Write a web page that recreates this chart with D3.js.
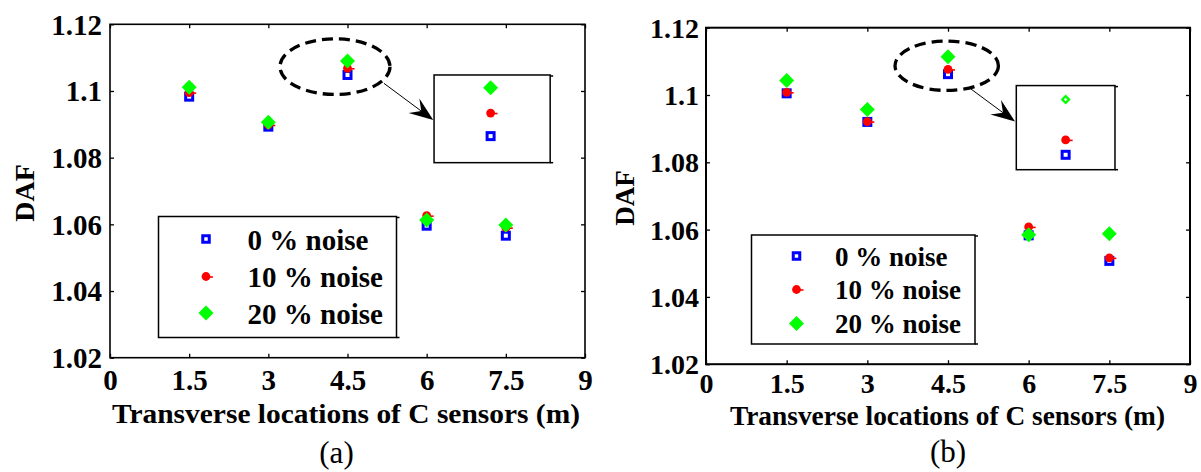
<!DOCTYPE html>
<html><head><meta charset="utf-8">
<script src="https://cdn.jsdelivr.net/npm/d3@7"></script>
<style>body{margin:0;background:#fff} svg{display:block}</style>
</head><body>
<svg id="c" width="1201" height="472"></svg>
<script>
// ---------- data ----------
const xLocations = [1.5, 3, 4.5, 6, 7.5];
const xTicks = [0, 1.5, 3, 4.5, 6, 7.5, 9];
const xTickLabels = ["0", "1.5", "3", "4.5", "6", "7.5", "9"];
const yTicks = [1.02, 1.04, 1.06, 1.08, 1.1, 1.12];
const yTickLabels = ["1.02", "1.04", "1.06", "1.08", "1.1", "1.12"];
const seriesNames = ["0 % noise", "10 % noise", "20 % noise"];
const xLabel = "Transverse locations of C sensors (m)";
const yLabel = "DAF";
const panelLabels = ["(a)", "(b)"];

const a_noise0  = [1.0983, 1.0893, 1.1048, 1.0596, 1.0566];
const a_noise10 = [1.0995, 1.0898, 1.1068, 1.0626, 1.0590];
const a_noise20 = [1.1011, 1.0906, 1.1090, 1.0613, 1.0598];

const b_noise0  = [1.1005, 1.0920, 1.1062, 1.0583, 1.0507];
const b_noise10 = [1.1008, 1.0921, 1.1076, 1.0608, 1.0516];
const b_noise20 = [1.1043, 1.0957, 1.1114, 1.0585, 1.0588];

// zoomed point (x = 4.5) and annotation geometry in data units
const zoomX = 4.5;
const a_insetYDomain = [1.1025, 1.1101];
const b_insetYDomain = [1.1048, 1.1127];

// ---------- drawing ----------
const svg = d3.select("#c");
const FONT = "'Liberation Serif','Times New Roman',serif";

function marker(g, type, x, y, opt) {
  opt = opt || {};
  if (type === 0) {
    const s = opt.sq || 7;
    g.append("rect").attr("x", x - s/2).attr("y", y - s/2).attr("width", s).attr("height", s)
      .attr("fill", "#fff").attr("stroke", "#0000ff").attr("stroke-width", 3);
  } else if (type === 1) {
    g.append("line").attr("x1", x + 2).attr("x2", x + 7).attr("y1", y + 0.5).attr("y2", y + 0.5)
      .attr("stroke", "#ff0000").attr("stroke-width", 1.6);
    g.append("circle").attr("cx", x).attr("cy", y).attr("r", 4.4).attr("fill", "#ff0000");
  } else {
    const d = opt.dm || 7.5;
    g.append("path").attr("d", `M${x},${y-d}L${x+d},${y}L${x},${y+d}L${x-d},${y}Z`).attr("fill", "#00ff00");
    if (opt.hollow) {
      const h = d * 0.35;
      g.append("path").attr("d", `M${x},${y-h}L${x+h},${y}L${x},${y+h}L${x-h},${y}Z`).attr("fill", "#fff");
    }
  }
}

function drawPanel(p) {
  const g = svg.append("g");
  const x = d3.scaleLinear().domain([0, 9]).range([p.left, p.right]);
  const y = d3.scaleLinear().domain([1.02, 1.12]).range([p.bottom, p.top]);
  const W = p.right - p.left, H = p.bottom - p.top;

  // frame
  g.append("rect").attr("x", p.left).attr("y", p.top).attr("width", W).attr("height", H)
    .attr("fill", "none").attr("stroke", "#000").attr("stroke-width", p.frameW);

  const tickLen = 4;
  // bottom axis
  const bx = g.append("g").attr("transform", `translate(0,${p.bottom})`)
    .call(d3.axisBottom(x).tickValues(xTicks).tickSize(-tickLen).tickFormat((d, i) => xTickLabels[i]));
  bx.select(".domain").remove();
  bx.selectAll("line").attr("stroke", "#000").attr("stroke-width", 1.3);
  bx.selectAll("text").attr("y", p.xTickBase).attr("dy", null)
    .attr("font-family", FONT).attr("font-weight", "bold").attr("font-size", p.tickFont).attr("fill", "#000");
  // top axis
  const tx = g.append("g").attr("transform", `translate(0,${p.top})`)
    .call(d3.axisTop(x).tickValues(xTicks).tickSize(-tickLen).tickFormat(""));
  tx.select(".domain").remove();
  tx.selectAll("line").attr("stroke", "#000").attr("stroke-width", 1.3);
  // left axis
  const ly = g.append("g").attr("transform", `translate(${p.left},0)`)
    .call(d3.axisLeft(y).tickValues(yTicks).tickSize(-tickLen).tickFormat((d, i) => yTickLabels[i]));
  ly.select(".domain").remove();
  ly.selectAll("line").attr("stroke", "#000").attr("stroke-width", 1.3);
  ly.selectAll("text").attr("x", -p.yTickPad).attr("dy", "0.34em")
    .attr("font-family", FONT).attr("font-weight", "bold").attr("font-size", p.tickFont).attr("fill", "#000");
  // right axis
  const ry = g.append("g").attr("transform", `translate(${p.right},0)`)
    .call(d3.axisRight(y).tickValues(yTicks).tickSize(-tickLen).tickFormat(""));
  ry.select(".domain").remove();
  ry.selectAll("line").attr("stroke", "#000").attr("stroke-width", 1.3);

  // axis labels
  g.append("text").attr("x", (p.left + p.right) / 2 + p.xLabelShift).attr("y", p.xLabelBase)
    .attr("text-anchor", "middle").attr("font-family", FONT).attr("font-weight", "bold")
    .attr("font-size", p.labelFont).attr("textLength", p.xLabelLen).attr("lengthAdjust", "spacingAndGlyphs")
    .text(xLabel);
  g.append("text").attr("transform", `translate(${p.yLabelX},${p.yLabelY}) rotate(-90)`)
    .attr("text-anchor", "middle").attr("font-family", FONT).attr("font-weight", "bold")
    .attr("font-size", p.labelFont).text(yLabel);
  g.append("text").attr("x", p.panelX).attr("y", p.panelBase).attr("text-anchor", "middle")
    .attr("font-family", FONT).attr("font-size", 31).text(p.panelLabel);

  // data points
  const series = p.series;
  series.forEach((vals, si) => {
    vals.forEach((v, i) => marker(g, si, x(xLocations[i]), y(v)));
  });

  // dashed ellipse
  const e = p.ellipse;
  g.append("ellipse").attr("cx", x(e.cx)).attr("cy", y(e.cy))
    .attr("rx", x(e.rx) - x(0)).attr("ry", y(0) - y(e.ry) === 0 ? 0 : Math.abs(y(1.02) - y(1.02 + e.ry)))
    .attr("fill", "none").attr("stroke", "#000").attr("stroke-width", 3.3).attr("stroke-dasharray", "11,6");

  // arrow
  const ar = p.arrow;
  const x1 = x(ar.x1), y1 = y(ar.y1), x2 = x(ar.x2), y2 = y(ar.y2);
  const len = Math.hypot(x2 - x1, y2 - y1), ux = (x2 - x1) / len, uy = (y2 - y1) / len;
  const nx = -uy, ny = ux;
  const L = 24, Wd = 9, N = 15;
  g.append("line").attr("x1", x1).attr("y1", y1).attr("x2", x2 - ux * N).attr("y2", y2 - uy * N)
    .attr("stroke", "#000").attr("stroke-width", 1);
  g.append("path").attr("d",
    `M${x2},${y2}L${x2 - ux*L + nx*Wd},${y2 - uy*L + ny*Wd}L${x2 - ux*N},${y2 - uy*N}L${x2 - ux*L - nx*Wd},${y2 - uy*L - ny*Wd}Z`)
    .attr("fill", "#000");

  // inset
  const ib = p.insetBox;
  const ix0 = x(ib.x0), ix1 = x(ib.x1), iy0 = y(ib.y1), iy1 = y(ib.y0);
  g.append("rect").attr("x", ix0).attr("y", iy0).attr("width", ix1 - ix0).attr("height", iy1 - iy0)
    .attr("fill", "#fff").attr("stroke", "#000").attr("stroke-width", 1.5);
  g.append("line").attr("x1", ix1).attr("x2", ix1 + 3).attr("y1", iy0 + 1).attr("y2", iy0 + 1).attr("stroke", "#000").attr("stroke-width", 1.5);
  g.append("line").attr("x1", ix1).attr("x2", ix1 + 3).attr("y1", iy1).attr("y2", iy1).attr("stroke", "#000").attr("stroke-width", 1.5);
  const isx = d3.scaleLinear().domain([zoomX - 0.1, zoomX + 0.1]).range([ix0, ix1]);
  const isy = d3.scaleLinear().domain(p.insetYDomain).range([iy1, iy0]);
  const zi = xLocations.indexOf(zoomX);
  series.forEach((vals, si) => {
    marker(g, si, isx(zoomX) + p.insetShift, isy(vals[zi]), si === 2 ? p.insetDiamond : {});
  });

  // legend
  const lg = p.legend;
  g.append("rect").attr("x", lg.x).attr("y", lg.y).attr("width", lg.w).attr("height", lg.h)
    .attr("fill", "#fff").attr("stroke", "#000").attr("stroke-width", 1.5);
  g.append("line").attr("x1", lg.x + lg.w).attr("x2", lg.x + lg.w + 3).attr("y1", lg.y + 1).attr("y2", lg.y + 1).attr("stroke", "#000").attr("stroke-width", 1.5);
  g.append("line").attr("x1", lg.x + lg.w).attr("x2", lg.x + lg.w + 3).attr("y1", lg.y + lg.h).attr("y2", lg.y + lg.h).attr("stroke", "#000").attr("stroke-width", 1.5);
  seriesNames.forEach((name, i) => {
    const cy = lg.y + lg.rows[i];
    marker(g, i, lg.mx, cy, { sq: 6.5 });
    g.append("text").attr("x", lg.tx).attr("y", cy + lg.textDy).attr("font-family", FONT)
      .attr("font-weight", "bold").attr("font-size", lg.font).text(name);
  });
}

drawPanel({
  left: 110, right: 585, top: 24.3, bottom: 357.7, frameW: 1.6,
  tickFont: 29, xTickBase: 32.5, yTickPad: 8,
  labelFont: 28, xLabelBase: 423, xLabelLen: 468, xLabelShift: -1.5,
  yLabelX: 34, yLabelY: 193,
  panelX: 336.5, panelBase: 463, panelLabel: panelLabels[0],
  series: [a_noise0, a_noise10, a_noise20],
  ellipse: { cx: 4.263, cy: 1.1073, rx: 1.042, ry: 0.00834 },
  arrow: { x1: 5.19, y1: 1.1023, x2: 6.125, y2: 1.0913 },
  insetBox: { x0: 6.14, x1: 8.34, y0: 1.0785, y1: 1.1048 },
  insetYDomain: a_insetYDomain, insetShift: -1.5, insetDiamond: {},
  legend: { x: 158.5, y: 216.5, w: 238, h: 121, mx: 206, tx: 247.5, rows: [22.5, 60, 96.5], textDy: 10.5, font: 29 }
});

drawPanel({
  left: 706, right: 1190, top: 27.7, bottom: 364.2, frameW: 2,
  tickFont: 28, xTickBase: 29, yTickPad: 7,
  labelFont: 27, xLabelBase: 425, xLabelLen: 435, xLabelShift: -0.5,
  yLabelX: 634, yLabelY: 198,
  panelX: 948, panelBase: 462, panelLabel: panelLabels[1],
  series: [b_noise0, b_noise10, b_noise20],
  ellipse: { cx: 4.476, cy: 1.1087, rx: 0.961, ry: 0.00734 },
  arrow: { x1: 4.909, y1: 1.102, x2: 5.746, y2: 1.0921 },
  insetBox: { x0: 5.77, x1: 7.605, y0: 1.0778, y1: 1.1028 },
  insetYDomain: b_insetYDomain, insetShift: 0, insetDiamond: { dm: 5, hollow: true },
  legend: { x: 751.5, y: 235, w: 223.5, h: 109, mx: 796.5, tx: 835, rows: [21, 54.5, 88.5], textDy: 9.5, font: 27 }
});
</script>
</body></html>
